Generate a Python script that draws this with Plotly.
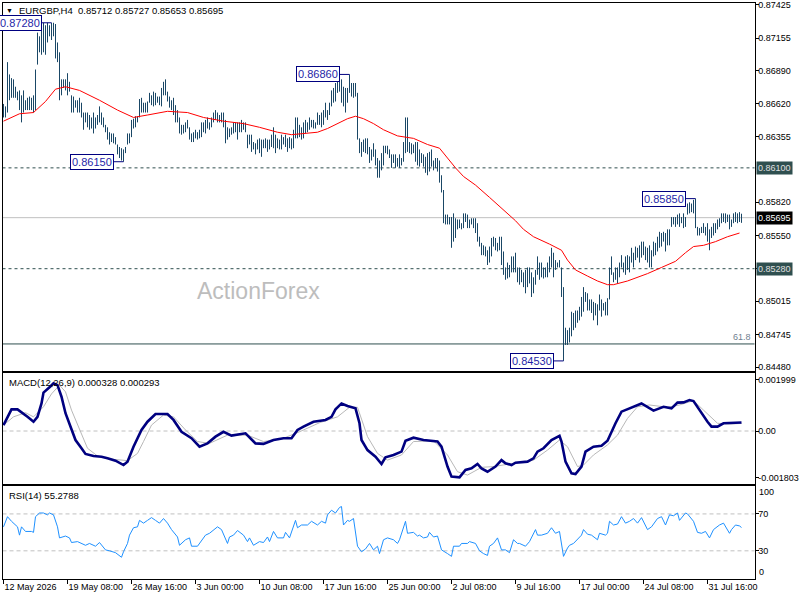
import plotly.graph_objects as go

# EURGBP H4 bars (bar index 0 = 12 May 2026 00:00)
high = [
    0.8662, 0.8660, 0.8696, 0.8686, 0.8683, 0.8682, 0.8676, 0.8672, 0.8673, 0.8669,
    0.8673, 0.8665, 0.8667, 0.8668, 0.8667, 0.8669, 0.8690, 0.8720, 0.8717, 0.8722,
    0.8728, 0.8726, 0.8728, 0.8726, 0.8728, 0.8728, 0.8727, 0.8712, 0.8704, 0.8682,
    0.8682, 0.8682, 0.8687, 0.8680, 0.8669, 0.8668, 0.8665, 0.8665, 0.8667, 0.8663,
    0.8655, 0.8655, 0.8655, 0.8653, 0.8651, 0.8655, 0.8651, 0.8653, 0.8660, 0.8655,
    0.8651, 0.8645, 0.8643, 0.8639, 0.8638, 0.8638, 0.8635, 0.8629, 0.8627, 0.8626,
    0.8625, 0.8627, 0.8638, 0.8638, 0.8649, 0.8650, 0.8652, 0.8652, 0.8666, 0.8667,
    0.8663, 0.8663, 0.8664, 0.8671, 0.8669, 0.8672, 0.8671, 0.8668, 0.8668, 0.8675,
    0.8680, 0.8682, 0.8672, 0.8668, 0.8665, 0.8667, 0.8661, 0.8657, 0.8651, 0.8645,
    0.8645, 0.8647, 0.8649, 0.8643, 0.8638, 0.8639, 0.8641, 0.8639, 0.8641, 0.8647,
    0.8647, 0.8649, 0.8651, 0.8647, 0.8651, 0.8655, 0.8657, 0.8655, 0.8653, 0.8655,
    0.8655, 0.8649, 0.8643, 0.8642, 0.8643, 0.8647, 0.8647, 0.8647, 0.8647, 0.8649,
    0.8647, 0.8647, 0.8637, 0.8637, 0.8637, 0.8631, 0.8630, 0.8633, 0.8634, 0.8633,
    0.8633, 0.8634, 0.8633, 0.8633, 0.8637, 0.8643, 0.8637, 0.8634, 0.8633, 0.8637,
    0.8635, 0.8637, 0.8634, 0.8635, 0.8634, 0.8641, 0.8651, 0.8651, 0.8645, 0.8643,
    0.8647, 0.8649, 0.8647, 0.8651, 0.8649, 0.8649, 0.8647, 0.8655, 0.8653, 0.8655,
    0.8657, 0.8663, 0.8657, 0.8663, 0.8673, 0.8675, 0.8679, 0.8682, 0.8684, 0.8682,
    0.8676, 0.8675, 0.8675, 0.8686, 0.8679, 0.8679, 0.8679, 0.8671, 0.8634, 0.8631,
    0.8633, 0.8634, 0.8634, 0.8627, 0.8625, 0.8630, 0.8625, 0.8618, 0.8616, 0.8622,
    0.8628, 0.8628, 0.8628, 0.8625, 0.8621, 0.8621, 0.8621, 0.8618, 0.8621, 0.8618,
    0.8631, 0.8651, 0.8651, 0.8631, 0.8630, 0.8629, 0.8631, 0.8631, 0.8625, 0.8622,
    0.8621, 0.8619, 0.8622, 0.8623, 0.8625, 0.8616, 0.8618, 0.8618, 0.8616, 0.8604,
    0.8592, 0.8572, 0.8572, 0.8570, 0.8570, 0.8573, 0.8569, 0.8568, 0.8568, 0.8565,
    0.8573, 0.8573, 0.8572, 0.8568, 0.8569, 0.8569, 0.8569, 0.8565, 0.8554, 0.8549,
    0.8547, 0.8546, 0.8543, 0.8546, 0.8553, 0.8554, 0.8553, 0.8549, 0.8554, 0.8554,
    0.8542, 0.8529, 0.8533, 0.8531, 0.8538, 0.8538, 0.8541, 0.8529, 0.8529, 0.8527,
    0.8525, 0.8527, 0.8529, 0.8529, 0.8525, 0.8521, 0.8527, 0.8538, 0.8533, 0.8533,
    0.8529, 0.8529, 0.8533, 0.8538, 0.8545, 0.8541, 0.8535, 0.8533, 0.8535, 0.8529,
    0.8513, 0.8480, 0.8478, 0.8480, 0.8493, 0.8492, 0.8494, 0.8494, 0.8497, 0.8505,
    0.8513, 0.8509, 0.8508, 0.8503, 0.8503, 0.8501, 0.8500, 0.8499, 0.8507, 0.8503,
    0.8500, 0.8501, 0.8504, 0.8529, 0.8538, 0.8525, 0.8529, 0.8529, 0.8533, 0.8539,
    0.8533, 0.8538, 0.8539, 0.8538, 0.8545, 0.8541, 0.8546, 0.8545, 0.8547, 0.8550,
    0.8550, 0.8546, 0.8545, 0.8547, 0.8543, 0.8550, 0.8549, 0.8554, 0.8558, 0.8557,
    0.8558, 0.8557, 0.8560, 0.8560, 0.8570, 0.8570, 0.8570, 0.8572, 0.8573, 0.8570,
    0.8573, 0.8570, 0.8581, 0.8582, 0.8581, 0.8584, 0.8585, 0.8562, 0.8561, 0.8562,
    0.8565, 0.8562, 0.8565, 0.8560, 0.8562, 0.8565, 0.8565, 0.8568, 0.8569, 0.8573,
    0.8573, 0.8573, 0.8572, 0.8572, 0.8568, 0.8573, 0.8574, 0.8573, 0.8574, 0.85727,
]
low = [
    0.8651, 0.8651, 0.8655, 0.8665, 0.8667, 0.8667, 0.8667, 0.8665, 0.8657, 0.8647,
    0.8655, 0.8657, 0.8657, 0.8657, 0.8657, 0.8655, 0.8657, 0.8694, 0.8704, 0.8702,
    0.8704, 0.8702, 0.8712, 0.8717, 0.8714, 0.8717, 0.8699, 0.8696, 0.8665, 0.8669,
    0.8675, 0.8673, 0.8669, 0.8672, 0.8655, 0.8655, 0.8659, 0.8655, 0.8655, 0.8651,
    0.8641, 0.8647, 0.8643, 0.8641, 0.8642, 0.8638, 0.8642, 0.8645, 0.8647, 0.8645,
    0.8643, 0.8639, 0.8633, 0.8629, 0.8631, 0.8630, 0.8629, 0.8621, 0.8618, 0.8616,
    0.8615, 0.8622, 0.8629, 0.8630, 0.8635, 0.8642, 0.8643, 0.8647, 0.8651, 0.8655,
    0.8655, 0.8655, 0.8655, 0.8663, 0.8661, 0.8660, 0.8661, 0.8663, 0.8661, 0.8660,
    0.8669, 0.8669, 0.8664, 0.8659, 0.8657, 0.8653, 0.8647, 0.8647, 0.8638, 0.8637,
    0.8638, 0.8639, 0.8642, 0.8633, 0.8631, 0.8631, 0.8634, 0.8633, 0.8634, 0.8635,
    0.8639, 0.8638, 0.8642, 0.8641, 0.8643, 0.8647, 0.8649, 0.8647, 0.8647, 0.8647,
    0.8643, 0.8630, 0.8633, 0.8635, 0.8637, 0.8638, 0.8639, 0.8633, 0.8639, 0.8639,
    0.8641, 0.8639, 0.8626, 0.8629, 0.8623, 0.8625, 0.8621, 0.8625, 0.8622, 0.8619,
    0.8626, 0.8626, 0.8623, 0.8625, 0.8627, 0.8626, 0.8622, 0.8626, 0.8625, 0.8625,
    0.8629, 0.8627, 0.8623, 0.8626, 0.8625, 0.8626, 0.8634, 0.8634, 0.8635, 0.8633,
    0.8634, 0.8638, 0.8639, 0.8641, 0.8643, 0.8642, 0.8642, 0.8645, 0.8645, 0.8643,
    0.8645, 0.8651, 0.8649, 0.8653, 0.8660, 0.8663, 0.8664, 0.8671, 0.8672, 0.8663,
    0.8660, 0.8655, 0.8663, 0.8671, 0.8668, 0.8667, 0.8668, 0.8633, 0.8622, 0.8619,
    0.8623, 0.8622, 0.8621, 0.8614, 0.8616, 0.8619, 0.8612, 0.8602, 0.8602, 0.8608,
    0.8612, 0.8622, 0.8621, 0.8618, 0.8610, 0.8614, 0.8610, 0.8611, 0.8610, 0.8612,
    0.8615, 0.8622, 0.8623, 0.8622, 0.8621, 0.8622, 0.8615, 0.8612, 0.8611, 0.8614,
    0.8611, 0.8606, 0.8604, 0.8607, 0.8611, 0.8608, 0.8610, 0.8607, 0.8598, 0.8590,
    0.8565, 0.8564, 0.8564, 0.8564, 0.8545, 0.8550, 0.8553, 0.8560, 0.8561, 0.8560,
    0.8561, 0.8566, 0.8561, 0.8561, 0.8564, 0.8561, 0.8557, 0.8550, 0.8546, 0.8539,
    0.8539, 0.8538, 0.8531, 0.8533, 0.8538, 0.8546, 0.8543, 0.8542, 0.8543, 0.8531,
    0.8523, 0.8519, 0.8520, 0.8521, 0.8525, 0.8525, 0.8525, 0.8517, 0.8515, 0.8517,
    0.8513, 0.8508, 0.8513, 0.8516, 0.8505, 0.8508, 0.8515, 0.8523, 0.8519, 0.8521,
    0.8520, 0.8521, 0.8521, 0.8525, 0.8529, 0.8521, 0.8527, 0.8529, 0.8529, 0.8505,
    0.8453, 0.8466, 0.8466, 0.8468, 0.8473, 0.8478, 0.8480, 0.8484, 0.8486, 0.8489,
    0.8493, 0.8501, 0.8494, 0.8494, 0.8492, 0.8486, 0.8490, 0.8482, 0.8494, 0.8489,
    0.8494, 0.8490, 0.8490, 0.8503, 0.8523, 0.8517, 0.8519, 0.8516, 0.8521, 0.8529,
    0.8525, 0.8523, 0.8527, 0.8525, 0.8533, 0.8529, 0.8535, 0.8537, 0.8533, 0.8537,
    0.8539, 0.8535, 0.8533, 0.8529, 0.8529, 0.8538, 0.8539, 0.8542, 0.8545, 0.8546,
    0.8550, 0.8542, 0.8547, 0.8547, 0.8562, 0.8564, 0.8562, 0.8564, 0.8562, 0.8565,
    0.8561, 0.8562, 0.8572, 0.8573, 0.8574, 0.8573, 0.8561, 0.8555, 0.8555, 0.8557,
    0.8557, 0.8555, 0.8550, 0.8543, 0.8553, 0.8555, 0.8557, 0.8560, 0.8562, 0.8565,
    0.8566, 0.8565, 0.8566, 0.8560, 0.8562, 0.8565, 0.8566, 0.8565, 0.8566, 0.85653,
]
last_ohlc = [0.85712, 0.85727, 0.85653, 0.85695]

# moving average (red line)
ma_idx = [0, 8, 15, 21, 26, 31, 38, 48, 57, 65, 72, 82, 92, 100, 110, 120, 128, 137, 144, 150,
          157, 162, 167, 172, 176, 180, 185, 190, 197, 205, 212, 218, 222, 226, 230, 236, 243, 250, 256, 260,
          265, 273, 279, 282, 286, 292, 297, 302, 305, 312, 322, 329, 336, 341, 345, 350, 356, 362, 368]
ma_val = [0.8648, 0.8654, 0.8655, 0.8664, 0.8674, 0.8676, 0.8673, 0.8665, 0.8657, 0.8651,
          0.8653, 0.8656, 0.8655, 0.8651, 0.8648, 0.8646, 0.8643, 0.8639, 0.8637, 0.8638,
          0.8639, 0.8642, 0.8646, 0.8650, 0.8652, 0.8650, 0.8646, 0.8641, 0.8636, 0.8634,
          0.8629, 0.8626, 0.8618, 0.8610, 0.8603, 0.8596, 0.8586, 0.8576, 0.8567, 0.8560,
          0.8554, 0.8548, 0.8543, 0.8535, 0.8527, 0.8522, 0.8518, 0.8515, 0.8515, 0.8518,
          0.8524, 0.8529, 0.8534, 0.8541, 0.8546, 0.8547, 0.8550, 0.8554, 0.8557]

# MACD(12,26,9) main and signal
macd_idx = [0, 2, 4, 7, 9, 12, 15, 17, 19, 20, 23, 25, 27, 29, 31, 34, 36, 39, 41, 45,
            49, 52, 56, 60, 62, 65, 69, 72, 76, 82, 85, 89, 94, 98, 102, 106, 110, 114, 121, 126,
            130, 135, 140, 144, 147, 150, 155, 161, 164, 166, 169, 172, 176, 178, 179, 182, 186, 189, 191, 195,
            199, 201, 205, 210, 217, 219, 222, 224, 228, 231, 234, 237, 239, 242, 246, 249, 251, 254, 256, 262,
            265, 267, 270, 274, 278, 279, 281, 284, 286, 289, 291, 295, 299, 302, 304, 306, 309, 314, 319, 325,
            330, 334, 337, 340, 343, 345, 349, 352, 354, 357, 360, 364, 369]
macd_val = [0.00023, 0.00055, 0.00084, 0.00084, 0.00071, 0.00055, 0.00036, 0.00055, 0.00107, 0.00149,
            0.00170, 0.00185, 0.00178, 0.00133, 0.00069, 0.00004, -0.00035, -0.00067, -0.00089, -0.00097,
            -0.00100, -0.00106, -0.00115, -0.00132, -0.00119, -0.00061, 0.00004, 0.00036, 0.00066, 0.00066,
            0.00043, -0.00003, -0.00028, -0.00061, -0.00048, -0.00022, -0.00003, -0.00018, -0.00009, -0.00048,
            -0.00050, -0.00035, -0.00028, -0.00028, 0.00004, 0.00017, 0.00036, 0.00043, 0.00055, 0.00084,
            0.00107, 0.00097, 0.00088, 0.00030, -0.00035, -0.00074, -0.00100, -0.00128, -0.00102, -0.00093,
            -0.00080, -0.00038, -0.00026, -0.00035, -0.00041, -0.00061, -0.00138, -0.00177, -0.00180, -0.00151,
            -0.00145, -0.00128, -0.00145, -0.00158, -0.00138, -0.00113, -0.00125, -0.00132, -0.00123, -0.00119,
            -0.00106, -0.00080, -0.00067, -0.00035, -0.00019, -0.00041, -0.00119, -0.00164, -0.00167, -0.00138,
            -0.00080, -0.00061, -0.00057, -0.00038, -0.00003, 0.00030, 0.00075, 0.00092, 0.00107, 0.00079,
            0.00094, 0.00088, 0.00110, 0.00111, 0.00120, 0.00116, 0.00069, 0.00036, 0.00017, 0.00017,
            0.00030, 0.00030, 0.000328]
sig_idx = [0, 5, 11, 15, 20, 24, 28, 31, 34, 38, 42, 47, 55, 62, 67, 70, 74, 80, 85, 91,
           97, 103, 112, 122, 130, 140, 148, 158, 167, 173, 177, 182, 187, 192, 199, 205, 215, 222, 227, 232,
           239, 245, 255, 265, 272, 278, 282, 287, 290, 295, 302, 307, 312, 317, 323, 332, 338, 345, 350, 357,
           363, 369]
sig_val = [0.00023, 0.00055, 0.00071, 0.00055, 0.00094, 0.00144, 0.00178, 0.00152, 0.00081, 0.00004,
           -0.00067, -0.00097, -0.00110, -0.00115, -0.00087, -0.00041, 0.00023, 0.00062, 0.00055, 0.00004,
           -0.00041, -0.00048, -0.00016, -0.00016, -0.00041, -0.00028, -0.00003, 0.00032, 0.00055, 0.00092,
           0.00092, -0.00022, -0.00087, -0.00113, -0.00093, -0.00041, -0.00038, -0.00093, -0.00158, -0.00171,
           -0.00141, -0.00138, -0.00125, -0.00113, -0.00074, -0.00035, -0.00061, -0.00138, -0.00132, -0.00093,
           -0.00054, -0.00016, 0.00049, 0.00094, 0.00101, 0.00092, 0.00101, 0.00118, 0.00081, 0.00030,
           0.00027, 0.000293]

# RSI(14)
rsi_idx = [0, 2, 4, 6, 7, 8, 9, 11, 14, 15, 16, 18, 20, 22, 23, 25, 27, 28, 31, 33,
           34, 37, 39, 41, 43, 46, 48, 51, 53, 56, 59, 60, 62, 63, 65, 67, 68, 70, 72, 74,
           76, 78, 80, 82, 84, 87, 88, 91, 93, 94, 97, 98, 101, 103, 107, 109, 112, 113, 115, 117,
           120, 122, 123, 125, 128, 130, 132, 133, 135, 137, 140, 141, 143, 146, 147, 149, 152, 154, 157, 159,
           161, 162, 164, 166, 168, 169, 170, 172, 173, 175, 177, 179, 181, 183, 185, 187, 188, 190, 192, 195,
           197, 198, 200, 201, 202, 205, 207, 208, 210, 212, 213, 215, 217, 219, 222, 224, 225, 228, 229, 232,
           233, 236, 238, 240, 242, 243, 245, 247, 249, 251, 253, 255, 257, 258, 261, 263, 266, 267, 269, 272,
           274, 276, 278, 279, 280, 282, 283, 285, 287, 289, 290, 292, 294, 297, 298, 301, 302, 303, 305, 307,
           309, 311, 313, 315, 317, 319, 322, 324, 327, 329, 331, 333, 335, 337, 338, 341, 342, 344, 345, 347,
           349, 351, 353, 355, 357, 358, 360, 363, 364, 366, 368, 369]
rsi_val = [56, 67, 62, 58, 56, 47, 56, 51, 51, 50, 67, 71, 71, 69, 71, 69, 56, 44, 46, 44,
           39, 40, 38, 36, 38, 35, 39, 31, 30, 28, 23, 29, 38, 47, 55, 56, 63, 60, 63, 66,
           63, 60, 65, 60, 53, 45, 36, 42, 44, 35, 35, 38, 47, 49, 56, 53, 38, 45, 47, 52,
           47, 40, 44, 36, 40, 39, 45, 40, 51, 44, 44, 50, 44, 63, 55, 58, 58, 62, 58, 62,
           60, 69, 74, 71, 77, 78, 58, 63, 62, 65, 35, 29, 32, 38, 31, 35, 27, 42, 44, 42,
           38, 42, 56, 62, 49, 50, 46, 47, 44, 45, 50, 45, 46, 31, 27, 24, 35, 35, 38, 38,
           40, 38, 30, 27, 25, 35, 38, 44, 31, 31, 28, 42, 38, 38, 35, 40, 53, 47, 47, 49,
           55, 49, 51, 38, 24, 33, 36, 38, 42, 47, 53, 48, 47, 42, 49, 47, 49, 62, 58, 59,
           67, 60, 62, 65, 60, 66, 53, 56, 65, 67, 58, 69, 68, 71, 63, 71, 70, 65, 62, 50,
           49, 51, 44, 53, 56, 58, 60, 49, 53, 58, 57, 55.2788]

time_idx = [0, 32, 64, 96, 128, 160, 192, 224, 256, 288, 320, 352]
time_labels = ["12 May 2026", "19 May 08:00", "26 May 16:00", "3 Jun 00:00", "10 Jun 08:00",
               "17 Jun 16:00", "25 Jun 00:00", "2 Jul 08:00", "9 Jul 16:00", "17 Jul 00:00",
               "24 Jul 08:00", "31 Jul 16:00"]
price_ticks = [0.87425, 0.87155, 0.86890, 0.86620, 0.86355, 0.85820,
               0.85550, 0.85280, 0.85015, 0.84745, 0.84480]
rsi_levels = [70, 30]
rsi_bounds = ["100", "0"]

levels = [0.86100, 0.85280]          # dashed support / resistance
fib_level = 0.84668                  # 61.8 retracement
swings = [(24, "high"), (60, "low"), (173, "high"), (280, "low"), (346, "high")]

FONT = "Liberation Sans, Arial, sans-serif"
BAR = "#1a4766"
NAVY = "#000080"

fig = go.Figure()

# bars as vertical high-low strokes
bx, by = [], []
for i, (h, l) in enumerate(zip(high, low)):
    bx += [i, i, None]
    by += [l, h, None]
fig.add_trace(go.Scatter(x=bx, y=by, mode="lines", line=dict(color=BAR, width=1),
                         xaxis="x", yaxis="y", hoverinfo="skip"))
fig.add_trace(go.Scatter(x=ma_idx, y=ma_val, mode="lines", line=dict(color="#ff0000", width=1),
                         xaxis="x", yaxis="y", hoverinfo="skip"))

fig.add_trace(go.Scatter(x=sig_idx, y=sig_val, mode="lines", line=dict(color="#b8b8b8", width=1),
                         xaxis="x2", yaxis="y2", hoverinfo="skip"))
fig.add_trace(go.Scatter(x=macd_idx, y=macd_val, mode="lines", line=dict(color=NAVY, width=2.6),
                         xaxis="x2", yaxis="y2", hoverinfo="skip"))

fig.add_trace(go.Scatter(x=rsi_idx, y=rsi_val, mode="lines", line=dict(color="#1e90ff", width=1),
                         xaxis="x3", yaxis="y3", hoverinfo="skip"))

xdom = [2.5 / 800, 754.5 / 800]
xrange = [-0.5, 375.5]
axis_common = dict(showline=True, mirror=True, linecolor="black", linewidth=1,
                   showgrid=False, zeroline=False, automargin=False)
ytick_font = dict(family=FONT, size=9, color="black")
yticks = dict(ticks="outside", ticklen=3, tickcolor="black", tickfont=ytick_font, ticklabelstandoff=-2)

fig.update_layout(
    width=800, height=600,
    margin=dict(l=0, r=0, t=0, b=0, autoexpand=False),
    paper_bgcolor="white", plot_bgcolor="white",
    showlegend=False,
    xaxis=dict(domain=xdom, range=xrange, anchor="y", showticklabels=False, ticks="", **axis_common),
    xaxis2=dict(domain=xdom, range=xrange, anchor="y2", matches="x", showticklabels=False, ticks="",
                **axis_common),
    xaxis3=dict(domain=xdom, range=xrange, anchor="y3", matches="x",
                tickvals=time_idx, ticktext=time_labels, ticks="outside", ticklen=4, tickcolor="black",
                ticklabelposition="outside right", tickfont=ytick_font, **axis_common),
    yaxis=dict(domain=[1 - 370.5 / 600, 1 - 2.5 / 600], range=[0.84452, 0.87445], side="right",
               anchor="x", tickvals=price_ticks, tickformat=".5f", **yticks, **axis_common),
    yaxis2=dict(domain=[1 - 483.5 / 600, 1 - 372.5 / 600], range=[-0.002037, 0.00227], side="right",
                anchor="x2", tickvals=[0.001999, 0, -0.001803], ticktext=["0.001999", "0.00", "-0.001803"],
                **yticks, **axis_common),
    yaxis3=dict(domain=[1 - 578.5 / 600, 1 - 485.5 / 600], range=[0, 100.8], side="right",
                anchor="x3", tickvals=rsi_levels, **yticks, **axis_common),
)

shapes = []
for lv in levels:
    shapes.append(dict(type="line", xref="x domain", x0=0, x1=1, yref="y", y0=lv, y1=lv,
                       line=dict(color="#2f4f4f", width=1, dash="3px,3px"), layer="below"))
shapes.append(dict(type="line", xref="x domain", x0=0, x1=1, yref="y", y0=last_ohlc[3], y1=last_ohlc[3],
                   line=dict(color="#c0c0c0", width=1), layer="below"))
shapes.append(dict(type="line", xref="x domain", x0=0, x1=1, yref="y", y0=fib_level, y1=fib_level,
                   line=dict(color="#2f4f4f", width=1), layer="below"))
shapes.append(dict(type="line", xref="x2 domain", x0=0, x1=1, yref="y2", y0=0, y1=0,
                   line=dict(color="#c0c0c0", width=1, dash="4px,3px"), layer="below"))
for lv in rsi_levels:
    shapes.append(dict(type="line", xref="x3 domain", x0=0, x1=1, yref="y3", y0=lv, y1=lv,
                       line=dict(color="#c0c0c0", width=1, dash="4px,3px"), layer="below"))

annotations = []
# swing high / low labels
for idx, kind in swings:
    p = high[idx] if kind == "high" else low[idx]
    shapes.append(dict(type="line", xref="x", yref="y", x0=idx - 5, x1=idx, y0=p, y1=p,
                       line=dict(color=NAVY, width=1)))
    annotations.append(dict(xref="x", yref="y", x=idx - 5, y=p, xanchor="right", yanchor="middle",
                            text=f"{p:.5f}", showarrow=False, bgcolor="white", bordercolor=NAVY,
                            borderwidth=1, borderpad=1, font=dict(family=FONT, size=11, color="#1f1fa8")))

# price tags on the right axis
for lv in levels:
    annotations.append(dict(xref="x domain", yref="y", x=1, y=lv, xanchor="left", yanchor="middle",
                            xshift=1, text=f"{lv:.5f}", showarrow=False, bgcolor="#2f4f4f", borderpad=1,
                            font=dict(family=FONT, size=9, color="#e0e0e0")))
annotations.append(dict(xref="x domain", yref="y", x=1, y=last_ohlc[3], xanchor="left", yanchor="middle",
                        xshift=1, text=f"{last_ohlc[3]:.5f}", showarrow=False, bgcolor="black", borderpad=1,
                        font=dict(family=FONT, size=9, color="white")))
annotations.append(dict(xref="x domain", yref="y", x=1, y=fib_level, xanchor="right", yanchor="bottom",
                        xshift=-2, text="61.8", showarrow=False,
                        font=dict(family=FONT, size=9, color="#708090")))

# RSI 100 / 0 labels sit just inside the panel's top and bottom edges
for txt, ypx in zip(rsi_bounds, [492, 572]):
    annotations.append(dict(xref="paper", yref="paper", x=757 / 800, y=1 - ypx / 600, xanchor="left",
                            yanchor="middle", text=txt, showarrow=False, font=ytick_font))

annotations.append(dict(xref="x domain", yref="y domain", x=0.341, y=0.175, text="ActionForex",
                        showarrow=False, font=dict(family=FONT, size=23, color="#bdbdbd")))

annotations.append(dict(xref="paper", yref="paper", x=4 / 800, y=1 - 10 / 600, xanchor="left",
                        yanchor="middle", text="▼", showarrow=False,
                        font=dict(family=FONT, size=7, color="black")))
annotations.append(dict(xref="paper", yref="paper", x=17 / 800, y=1 - 10 / 600, xanchor="left",
                        yanchor="middle", showarrow=False,
                        text="EURGBP,H4  " + " ".join(f"{v:.5f}" for v in last_ohlc),
                        font=dict(family=FONT, size=9.5, color="black")))
annotations.append(dict(xref="paper", yref="paper", x=7 / 800, y=1 - 382 / 600, xanchor="left",
                        yanchor="middle", showarrow=False,
                        text=f"MACD(12,26,9) {macd_val[-1]:.6f} {sig_val[-1]:.6f}",
                        font=dict(family=FONT, size=9.5, color="black")))
annotations.append(dict(xref="paper", yref="paper", x=7 / 800, y=1 - 495 / 600, xanchor="left",
                        yanchor="middle", showarrow=False, text=f"RSI(14) {rsi_val[-1]:.4f}",
                        font=dict(family=FONT, size=9.5, color="black")))

fig.update_layout(shapes=shapes, annotations=annotations)

# the page body has a default 8px margin; drop it so the 800x600 figure fills the window
fig.write_html("out.html", config={"displayModeBar": False},
               post_script="document.body.style.margin='0px';")
